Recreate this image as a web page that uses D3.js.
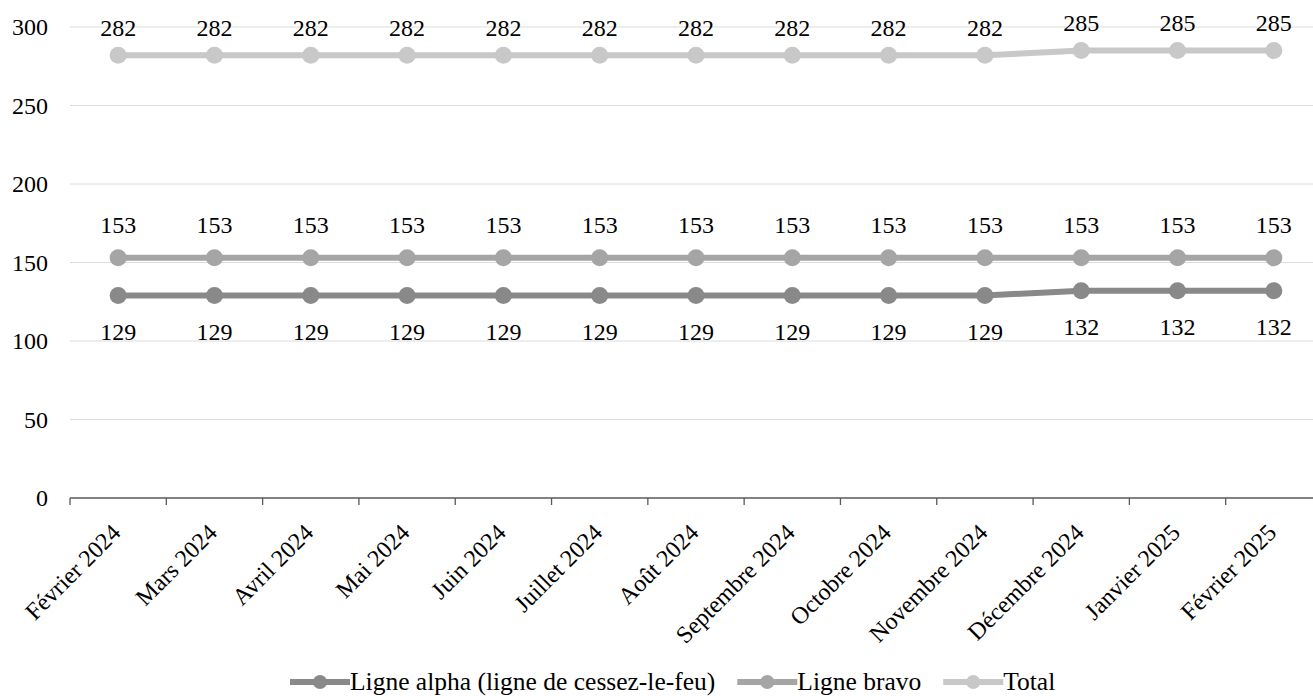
<!DOCTYPE html>
<html>
<head>
<meta charset="utf-8">
<script src="https://cdn.jsdelivr.net/npm/d3@7/dist/d3.min.js"></script>
<style>
  html, body { margin: 0; padding: 0; background: #fff; }
  svg { display: block; font-family: "Liberation Serif", "Times New Roman", serif; }
</style>
</head>
<body>
<svg id="chart" width="1313" height="696"></svg>
<script>
// Monthly counts per line
const months = ["Février 2024", "Mars 2024", "Avril 2024", "Mai 2024", "Juin 2024", "Juillet 2024",
  "Août 2024", "Septembre 2024", "Octobre 2024", "Novembre 2024", "Décembre 2024", "Janvier 2025", "Février 2025"];
const alphaValues = [129, 129, 129, 129, 129, 129, 129, 129, 129, 129, 132, 132, 132];
const bravoValues = [153, 153, 153, 153, 153, 153, 153, 153, 153, 153, 153, 153, 153];
const totalValues = [282, 282, 282, 282, 282, 282, 282, 282, 282, 282, 285, 285, 285];
const yTicks = [0, 50, 100, 150, 200, 250, 300];
const seriesNames = ["Ligne alpha (ligne de cessez-le-feu)", "Ligne bravo", "Total"];

const series = [
  { name: seriesNames[0], values: alphaValues, color: "#898989", labelOffset: 36 },
  { name: seriesNames[1], values: bravoValues, color: "#a5a5a5", labelOffset: -33 },
  { name: seriesNames[2], values: totalValues, color: "#c8c8c8", labelOffset: -28 }
];

const svg = d3.select("#chart");
const plotLeft = 70, plotRight = 1322, plotTop = 27, plotBottom = 498;

const x = d3.scaleBand().domain(months).range([plotLeft, plotRight]);
const y = d3.scaleLinear().domain([0, 300]).range([plotBottom, plotTop]);

// Horizontal gridlines
svg.append("g").selectAll("line").data(yTicks.filter(d => d > 0)).join("line")
  .attr("x1", plotLeft).attr("x2", 1313)
  .attr("y1", d => y(d)).attr("y2", d => y(d))
  .attr("stroke", "#dcdcdc").attr("stroke-width", 1);

// Y axis labels
svg.append("g").selectAll("text").data(yTicks).join("text")
  .attr("x", 48).attr("y", d => y(d)).attr("dy", "0.35em")
  .attr("text-anchor", "end").attr("font-size", 24).attr("fill", "#000")
  .text(d => d);

// X axis baseline with ticks at band boundaries
const xAxis = svg.append("g");
xAxis.append("line").attr("x1", plotLeft).attr("x2", 1313).attr("y1", plotBottom).attr("y2", plotBottom)
  .attr("stroke", "#595959").attr("stroke-width", 1.3);
xAxis.selectAll("line.tick").data(months).join("line").attr("class", "tick")
  .attr("x1", d => x(d)).attr("x2", d => x(d))
  .attr("y1", plotBottom).attr("y2", plotBottom + 7)
  .attr("stroke", "#595959").attr("stroke-width", 1.3);

// Rotated month labels
xAxis.selectAll("text").data(months).join("text")
  .attr("transform", d => `translate(${x(d) + x.bandwidth() / 2 - 2},${plotBottom + 30}) rotate(-45)`)
  .attr("text-anchor", "end").attr("dy", "0.35em")
  .attr("font-size", 24).attr("fill", "#000")
  .text(d => d);

const cx = (i) => x(months[i]) + x.bandwidth() / 2;
const line = d3.line().x((d, i) => cx(i)).y(d => y(d));

// Lines, markers and value labels
series.forEach(s => {
  const g = svg.append("g");
  g.append("path").datum(s.values)
    .attr("d", line).attr("fill", "none")
    .attr("stroke", s.color).attr("stroke-width", 6).attr("stroke-linejoin", "round");
  g.selectAll("circle").data(s.values).join("circle")
    .attr("cx", (d, i) => cx(i)).attr("cy", d => y(d)).attr("r", 8.5)
    .attr("fill", s.color);
  g.selectAll("text").data(s.values).join("text")
    .attr("x", (d, i) => cx(i))
    .attr("y", d => y(d) + s.labelOffset)
    .attr("dy", "0.35em").attr("text-anchor", "middle")
    .attr("font-size", 24).attr("fill", "#000")
    .text(d => d);
});

// Legend, laid out left to right from measured text widths
const legendY = 682;
let lx = 290;
series.forEach(s => {
  const g = svg.append("g");
  g.append("line").attr("x1", lx).attr("x2", lx + 60).attr("y1", legendY).attr("y2", legendY)
    .attr("stroke", s.color).attr("stroke-width", 6);
  g.append("circle").attr("cx", lx + 30).attr("cy", legendY).attr("r", 7).attr("fill", s.color);
  const t = g.append("text").attr("x", lx + 60).attr("y", legendY).attr("dy", "0.33em")
    .attr("font-size", 25.5).attr("fill", "#000").text(s.name);
  lx += 60 + t.node().getComputedTextLength() + 22;
});
</script>
</body>
</html>
